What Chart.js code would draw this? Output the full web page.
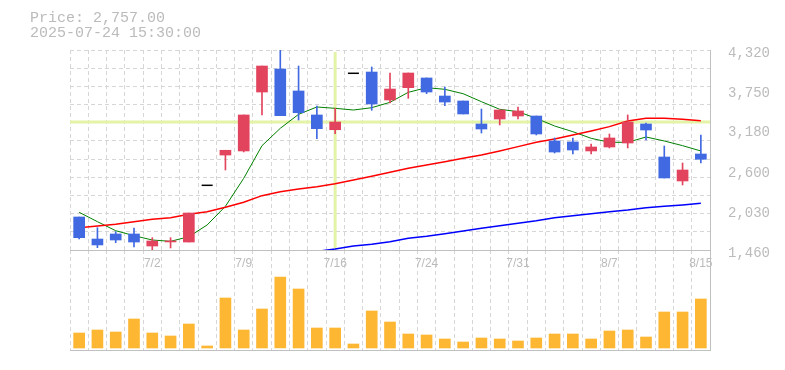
<!DOCTYPE html>
<html>
<head>
<meta charset="utf-8">
<script src="https://cdn.jsdelivr.net/npm/chart.js@4"></script>
<style>
  body { margin: 0; background: #fff; }
  #wrap { position: relative; width: 785px; height: 370px; }
  canvas { position: absolute; left: 0; top: 0; }
  .head { position: absolute; left: 30px; font: 15px/15px "Liberation Mono", monospace; color: #bbb; white-space: pre; }
</style>
</head>
<body>
<div id="wrap">
  <canvas id="volume" width="785" height="370"></canvas>
  <canvas id="price" width="785" height="370"></canvas>
  <div class="head" id="headPrice" style="top:11px"></div>
  <div class="head" id="headTime" style="top:26px"></div>
</div>
<script>
// trading days shown on the chart
const dates = ['6/26','6/27','6/30','7/1','7/2','7/3','7/4','7/7','7/8','7/9',
  '7/10','7/11','7/14','7/15','7/16','7/17','7/18','7/22','7/23','7/24',
  '7/25','7/28','7/29','7/30','7/31','8/1','8/4','8/5','8/6','8/7',
  '8/8','8/12','8/13','8/14','8/15'];
const labeledDates = ['7/2','7/9','7/16','7/24','7/31','8/7','8/15'];

const openPrices  = [1932,1617,1689,1689,1517,1575,1574,2385,2818,2876,3719,4048,3734,3391,3180,3987,4005,3605,3781,3920,3662,3591,3262,3333,3376,3376,3019,3005,2876,2933,2990,3262,2790,2447,2833];
const highPrices  = [1932,1779,1722,1775,1636,1636,1989,2385,2886,3391,4091,4320,4091,3519,3486,3987,4077,3991,3991,3920,3791,3591,3476,3462,3505,3376,3062,3062,2976,3119,3391,3276,2947,2704,3105];
const lowPrices   = [1617,1493,1564,1503,1460,1489,1574,2385,2604,2862,3391,3381,3319,3052,3123,3987,3458,3562,3629,3695,3523,3405,3133,3248,3333,3105,2847,2833,2833,2919,2919,3033,2490,2390,2704];
const closePrices = [1636,1532,1603,1574,1589,1590,1989,2385,2886,3391,4091,3381,3423,3195,3290,3987,3548,3762,3991,3719,3576,3405,3190,3462,3448,3119,2861,2890,2933,3062,3290,3176,2490,2604,2757];

// moving averages
const ma5  = [1999,1865,1736,1665,1603,1584,1650,1818,2085,2485,2952,3200,3400,3505,3486,3462,3495,3572,3715,3781,3758,3695,3581,3472,3438,3343,3233,3152,3057,3000,3000,3076,3019,2952,2876];
const ma25 = [1779,1803,1827,1865,1899,1922,1970,2008,2071,2142,2237,2294,2332,2365,2408,2461,2514,2571,2628,2676,2723,2771,2819,2876,2938,3000,3047,3105,3162,3224,3305,3343,3343,3329,3309];
const ma75 = [null,null,null,null,null,null,null,null,null,null,null,null,null,1440,1474,1517,1541,1579,1627,1656,1694,1732,1770,1808,1842,1879,1922,1951,1979,2008,2032,2065,2085,2104,2128];

const volumes = [150000,180000,160000,290000,150000,120000,240000,20000,500000,180000,390000,710000,590000,200000,200000,40000,370000,260000,140000,130000,90000,60000,100000,90000,70000,100000,140000,140000,90000,170000,180000,110000,360000,360000,490000];

const priceTicks = [4320,3750,3180,2600,2030,1460];
const priceMin = 1460;
const priceMax = 4320;
const gridStep = 260;

const crossIndex = 14;
const crossPrice = 3290;
const headPrice = 'Price: 2,757.00';
const headTime = '2025-07-24 15:30:00';

document.getElementById('headPrice').textContent = headPrice;
document.getElementById('headTime').textContent = headTime;

const upColor = '#e2445e';
const downColor = '#4169e1';
const gridColor = '#d6d6d6';
const borderColor = '#c0c0c0';

let candleColors = dates.map((d, i) => closePrices[i] >= openPrices[i] ? upColor : downColor);
let isFlat = dates.map((d, i) => highPrices[i] === lowPrices[i]);
let bodies = dates.map((d, i) => isFlat[i] ? null : [openPrices[i], closePrices[i]]);
let wicks = dates.map((d, i) => isFlat[i] ? null : [lowPrices[i], highPrices[i]]);
let flats = dates.map((d, i) => isFlat[i] ? closePrices[i] : null);

// crosshair drawn behind the candles
const crosshair = {
  id: 'crosshair',
  beforeDatasetsDraw(chart) {
    let ctx = chart.ctx;
    let area = chart.chartArea;
    let x = chart.scales.x.getPixelForValue(crossIndex);
    let y = chart.scales.y.getPixelForValue(crossPrice);
    ctx.save();
    ctx.strokeStyle = '#e3f3a8';
    ctx.lineWidth = 3;
    ctx.beginPath();
    ctx.moveTo(x, area.top + 2);
    ctx.lineTo(x, area.bottom);
    ctx.moveTo(area.left, y);
    ctx.lineTo(area.right, y);
    ctx.stroke();
    ctx.restore();
  }
};

let priceChart = new Chart(document.getElementById('price'), {
  type: 'bar',
  data: {
    labels: dates,
    datasets: [
      { type: 'line', data: ma75, borderColor: '#0000ff', borderWidth: 1.5, pointRadius: 0, order: 5 },
      { type: 'line', data: ma25, borderColor: '#ff0000', borderWidth: 1.5, pointRadius: 0, order: 5 },
      { type: 'line', data: ma5, borderColor: '#008000', borderWidth: 1, pointRadius: 0, order: 5 },
      { data: wicks, backgroundColor: candleColors, barThickness: 1, grouped: false, order: 3 },
      { data: bodies, backgroundColor: candleColors, barThickness: 11, grouped: false, order: 2 },
      { type: 'line', data: flats, showLine: false, pointStyle: 'line', pointRadius: 5.5,
        borderColor: '#000', borderWidth: 1.5, order: 1 }
    ]
  },
  options: {
    responsive: false,
    animation: false,
    layout: { padding: { top: 50, left: 70, right: 0, bottom: 100 } },
    plugins: { legend: { display: false }, tooltip: { enabled: false } },
    scales: {
      x: {
        offset: true,
        grid: { offset: true, color: gridColor, drawTicks: false },
        border: { color: borderColor, dash: [4, 3] },
        ticks: {
          autoSkip: false, maxRotation: 0, padding: 6, color: '#bbb',
          font: { family: 'Liberation Sans', size: 12 },
          callback: function (value) {
            let label = this.getLabelForValue(value);
            return labeledDates.includes(label) ? label : '';
          }
        },
        afterFit: axis => { axis.height = 20; }
      },
      y: {
        position: 'right',
        min: priceMin,
        max: priceMax,
        grid: { color: gridColor, drawTicks: false },
        border: { color: borderColor, dash: [4, 3] },
        ticks: { display: false },
        afterBuildTicks: axis => {
          let ticks = [];
          for (let v = priceMin; v <= priceMax; v += gridStep) ticks.push({ value: v });
          axis.ticks = ticks;
        },
        afterFit: axis => { axis.width = 0; }
      },
      yl: {
        position: 'right',
        min: priceMin,
        max: priceMax,
        grid: { display: false },
        border: { display: false },
        ticks: {
          padding: 10, color: '#bbb', labelOffset: 3,
          font: { family: 'Liberation Mono', size: 14 },
          callback: value => value.toLocaleString('en-US')
        },
        afterBuildTicks: axis => { axis.ticks = priceTicks.map(v => ({ value: v })); },
        afterFit: axis => { axis.width = 75; }
      }
    }
  },
  plugins: [crosshair]
});

let volumeChart = new Chart(document.getElementById('volume'), {
  type: 'bar',
  data: {
    labels: dates,
    datasets: [{ data: volumes, backgroundColor: '#fdb733', barThickness: 11 }]
  },
  options: {
    responsive: false,
    animation: false,
    layout: { padding: { top: 250, left: 70, right: 0, bottom: 20 } },
    plugins: { legend: { display: false }, tooltip: { enabled: false } },
    scales: {
      x: {
        offset: true,
        grid: { offset: true, color: gridColor, drawTicks: false },
        border: { color: borderColor, dash: [4, 3] },
        ticks: { display: false },
        afterFit: axis => { axis.height = 0; }
      },
      y: {
        position: 'right',
        min: -20000,
        max: 980000,
        grid: { display: false },
        border: { color: borderColor },
        ticks: { display: false },
        afterFit: axis => { axis.width = 75; }
      }
    }
  }
});
</script>
</body>
</html>
